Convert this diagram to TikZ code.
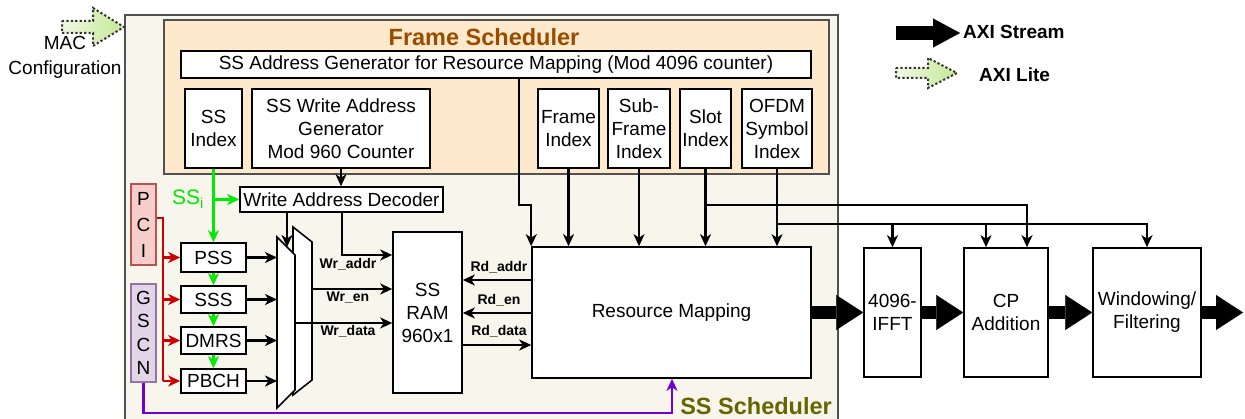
\documentclass[tikz,border=0pt]{standalone}
\usepackage{fontspec}
\setmainfont{Liberation Sans}
\usetikzlibrary{arrows.meta,calc}
\definecolor{ssg}{RGB}{0,235,0}
\definecolor{pcir}{RGB}{204,0,0}
\definecolor{purp}{RGB}{110,0,210}
\definecolor{sscol}{RGB}{102,102,0}
\definecolor{framec}{RGB}{153,76,0}
\definecolor{outerfill}{RGB}{248,245,237}
\definecolor{framefill}{RGB}{255,233,204}
\definecolor{pcifill}{RGB}{248,206,204}
\definecolor{pcidraw}{RGB}{184,84,80}
\definecolor{gscnfill}{RGB}{225,213,231}
\definecolor{gscndraw}{RGB}{150,115,166}
\definecolor{edgegray}{RGB}{80,80,80}
\definecolor{litedot}{RGB}{50,50,50}
\definecolor{liteL}{RGB}{240,248,228}
\definecolor{liteR}{RGB}{196,232,150}
\newcommand\mfont{\fontsize{19}{23}\selectfont}
\newcommand\lfont{\bfseries\fontsize{14}{16}\selectfont}
\newcommand\tfont{\bfseries\fontsize{23.5}{26}\selectfont}
\newcommand\bfont{\bfseries\fontsize{19}{22}\selectfont}
\newcommand\bx[7][box]{\node[#1,minimum width={#5-#3},minimum height={#6-#4}] (#2) at ({(#3+#5)/2},{(#4+#6)/2}) {#7};}
\begin{document}
\begin{tikzpicture}[x=1pt,y=-1pt,
  box/.style={draw=black,fill=white,line width=1.6pt,inner sep=0pt,align=center,font=\mfont},
  outerbox/.style={draw=edgegray,fill=outerfill,line width=1.4pt,inner sep=0pt},
  framebox/.style={draw=edgegray,fill=framefill,line width=1.4pt,inner sep=0pt},
  pcibox/.style={box,draw=pcidraw,fill=pcifill,font=\fontsize{19}{26}\selectfont},
  gscnbox/.style={box,draw=gscndraw,fill=gscnfill,font=\fontsize{19}{23.5}\selectfont},
  conn/.style={line width=2.2pt,-{Stealth[length=12pt,width=11pt,inset=3.5pt]}},
  plain/.style={line width=2.2pt},
  big/.style={line width=13pt,-{Triangle[length=27pt,width=35pt,line width=0.1pt]}},
  lbl/.style={font=\lfont,inner sep=0pt},
  muxs/.style={draw=black,fill=white,line width=1.6pt,line join=miter},
  lite/.style={draw=litedot,line width=2pt,dash pattern=on 2.2pt off 2.2pt,left color=liteL,right color=liteR}
]
\useasboundingbox (0,0) rectangle (1245,419);

% containers
\bx[outerbox]{ss}{125}{15}{838}{424}{}
\bx[framebox]{fs}{164}{20}{829}{174}{}
\node[font=\tfont,text=framec,inner sep=0pt] (fstitle) at (484,37) {Frame Scheduler};
\node[font=\tfont,text=sscol,inner sep=0pt,anchor=east] (sstitle) at (832,406) {SS Scheduler};

% frame scheduler contents
\bx{addr}{181}{51}{811}{78}{SS Address Generator for Resource Mapping (Mod 4096 counter)}
\bx{ssidx}{185}{89}{242}{168}{SS\\Index}
\bx{wagen}{252}{89}{430}{168}{SS Write Address\\Generator\\Mod 960 Counter}
\bx{fidx}{538}{89}{599}{168}{Frame\\Index}
\bx{sfidx}{608}{89}{670}{168}{Sub-\\Frame\\Index}
\bx{slot}{680}{89}{731}{168}{Slot\\Index}
\bx{ofdm}{742}{89}{812}{168}{OFDM\\Symbol\\Index}

% SS scheduler contents
\bx{dec}{240}{187}{443}{212}{Write Address Decoder}
\bx[pcibox]{pci}{131}{184}{156}{265}{P\\C\\I}
\bx[gscnbox]{gscn}{131}{284}{156}{382}{G\\S\\C\\N}
\bx{pss}{181}{243}{246}{272}{PSS}
\bx{sss}{181}{286}{246}{313}{SSS}
\bx{dmrs}{181}{327}{246}{354}{DMRS}
\bx{pbch}{181}{369}{246}{393}{PBCH}
\bx{ram}{393}{232}{462}{393}{SS\\RAM\\960x1}
\bx{rm}{532}{247}{811}{378}{Resource Mapping}

% outside blocks
\bx{ifft}{864}{248}{921}{377}{4096-\\IFFT}
\bx{cpa}{964}{248}{1048}{377}{CP\\Addition}
\bx{win}{1093}{248}{1201}{377}{Windowing/\\Filtering}

% multiplexer (two stacked trapezoids)
\draw[muxs] (293,227) -- (312,242) -- (312,380) -- (293,395) -- cycle;
\draw[muxs] (277,237) -- (295,255) -- (295,390) -- (277,408) -- cycle;
\coordinate (mfl) at (277,0);

% green SS index paths
\coordinate (gb) at (213.5,199.5);
\draw[conn,ssg] (ssidx.south) -- (pss.north);
\draw[conn,ssg] (gb) -- (dec.west);
\draw[conn,ssg] (pss.south) -- (sss.north);
\draw[conn,ssg] (sss.south) -- (dmrs.north);
\draw[conn,ssg] (dmrs.south) -- (pbch.north);
\node[text=ssg,font=\fontsize{21}{24}\selectfont,inner sep=0pt] (ssi) at (188,199) {SS\textsubscript{i}};

% red PCI paths
\coordinate (rx) at (163,218);
\draw[plain,pcir] (pci.east|-rx) -- (rx) -- (rx|-pbch.west);
\draw[conn,pcir] (rx|-pss.west) -- (pss.west);
\draw[conn,pcir] (rx|-sss.west) -- (sss.west);
\draw[conn,pcir] (rx|-dmrs.west) -- (dmrs.west);
\draw[conn,pcir] (rx|-pbch.west) -- (pbch.west);

% purple GSCN path
\coordinate (pp) at (672,413);
\draw[conn,purp] (gscn.south) |- (pp) -- (pp|-rm.south);

% inputs to mux
\draw[conn] (pss.east) -- (pss.east-|mfl);
\draw[conn] (sss.east) -- (sss.east-|mfl);
\draw[conn] (dmrs.east) -- (dmrs.east-|mfl);
\draw[conn] (pbch.east) -- (pbch.east-|mfl);

% decoder and write side
\draw[conn] (wagen.south) -- (wagen.south|-dec.north);
\coordinate (dm) at (287,247);
\draw[conn] (dec.south-|dm) -- (dm);
\coordinate (wa) at (342,255);
\draw[conn] (dec.south-|wa) |- (ram.west|-wa);
\coordinate (we) at (312,289);
\draw[conn] (we) -- (ram.west|-we);
\coordinate (wd) at (295,323);
\draw[conn] (wd) -- (ram.west|-wd);
\node[lbl] (lwa) at (348,264) {Wr\_addr};
\node[lbl] (lwe) at (348,298) {Wr\_en};
\node[lbl] (lwd) at (348,331) {Wr\_data};

% read side
\coordinate (ra) at (0,280);
\coordinate (re) at (0,313);
\coordinate (rd) at (0,345);
\draw[conn] (rm.west|-ra) -- (ram.east|-ra);
\draw[conn] (rm.west|-re) -- (ram.east|-re);
\draw[conn] (ram.east|-rd) -- (rm.west|-rd);
\node[lbl] (lra) at (499,267) {Rd\_addr};
\node[lbl] (lre) at (499,300) {Rd\_en};
\node[lbl] (lrd) at (499,331) {Rd\_data};

% frame scheduler to resource mapping
\coordinate (ag) at (519,205);
\draw[conn] (addr.south-|ag) -- (ag) -| (rm.north west);
\draw[conn] (fidx.south) -- (fidx.south|-rm.north);
\draw[conn] (sfidx.south) -- (sfidx.south|-rm.north);
\draw[conn] (slot.south) -- (slot.south|-rm.north);
\draw[conn] (ofdm.south) -- (ofdm.south|-rm.north);

% branches to outer blocks
\coordinate (sc) at (1027,205);
\draw[conn] (slot.south|-sc) -- (sc) -- (sc|-cpa.north);
\coordinate (ob) at (777,224);
\draw[conn] (ofdm.south|-ob) -| (win.north);
\draw[conn] (ifft.north|-ob) -- (ifft.north);
\coordinate (oc) at (986,224);
\draw[conn] (oc) -- (oc|-cpa.north);

% AXI stream arrows
\coordinate (out) at (1243,312.5);
\draw[big] (rm.east) -- (ifft.west);
\draw[big] (ifft.east) -- (cpa.west);
\draw[big] (cpa.east) -- (win.west);
\draw[big] (win.east) -- (out);

% legend
\coordinate (ls1) at (896,33);
\coordinate (ls2) at (960,33);
\draw[line width=14pt,-{Triangle[length=27pt,width=29pt,line width=0.1pt]}] (ls1) -- (ls2);
\node[font=\bfont,anchor=west,inner sep=0pt] (lst) at (963,32) {AXI Stream};
\path[lite] (896,68) -- (928,68) -- (928,58) -- (957,73) -- (928,88) -- (928,78) -- (896,78) -- cycle;
\node[font=\bfont,anchor=west,inner sep=0pt] (llt) at (979,75) {AXI Lite};

% MAC configuration
\path[lite] (62,21) -- (93,21) -- (93,8) -- (124,27) -- (93,46) -- (93,33) -- (62,33) -- cycle;
\node[font=\fontsize{19}{25}\selectfont,align=center,inner sep=0pt] (mac) at (65,57) {MAC\\Configuration};
\end{tikzpicture}
\end{document}
